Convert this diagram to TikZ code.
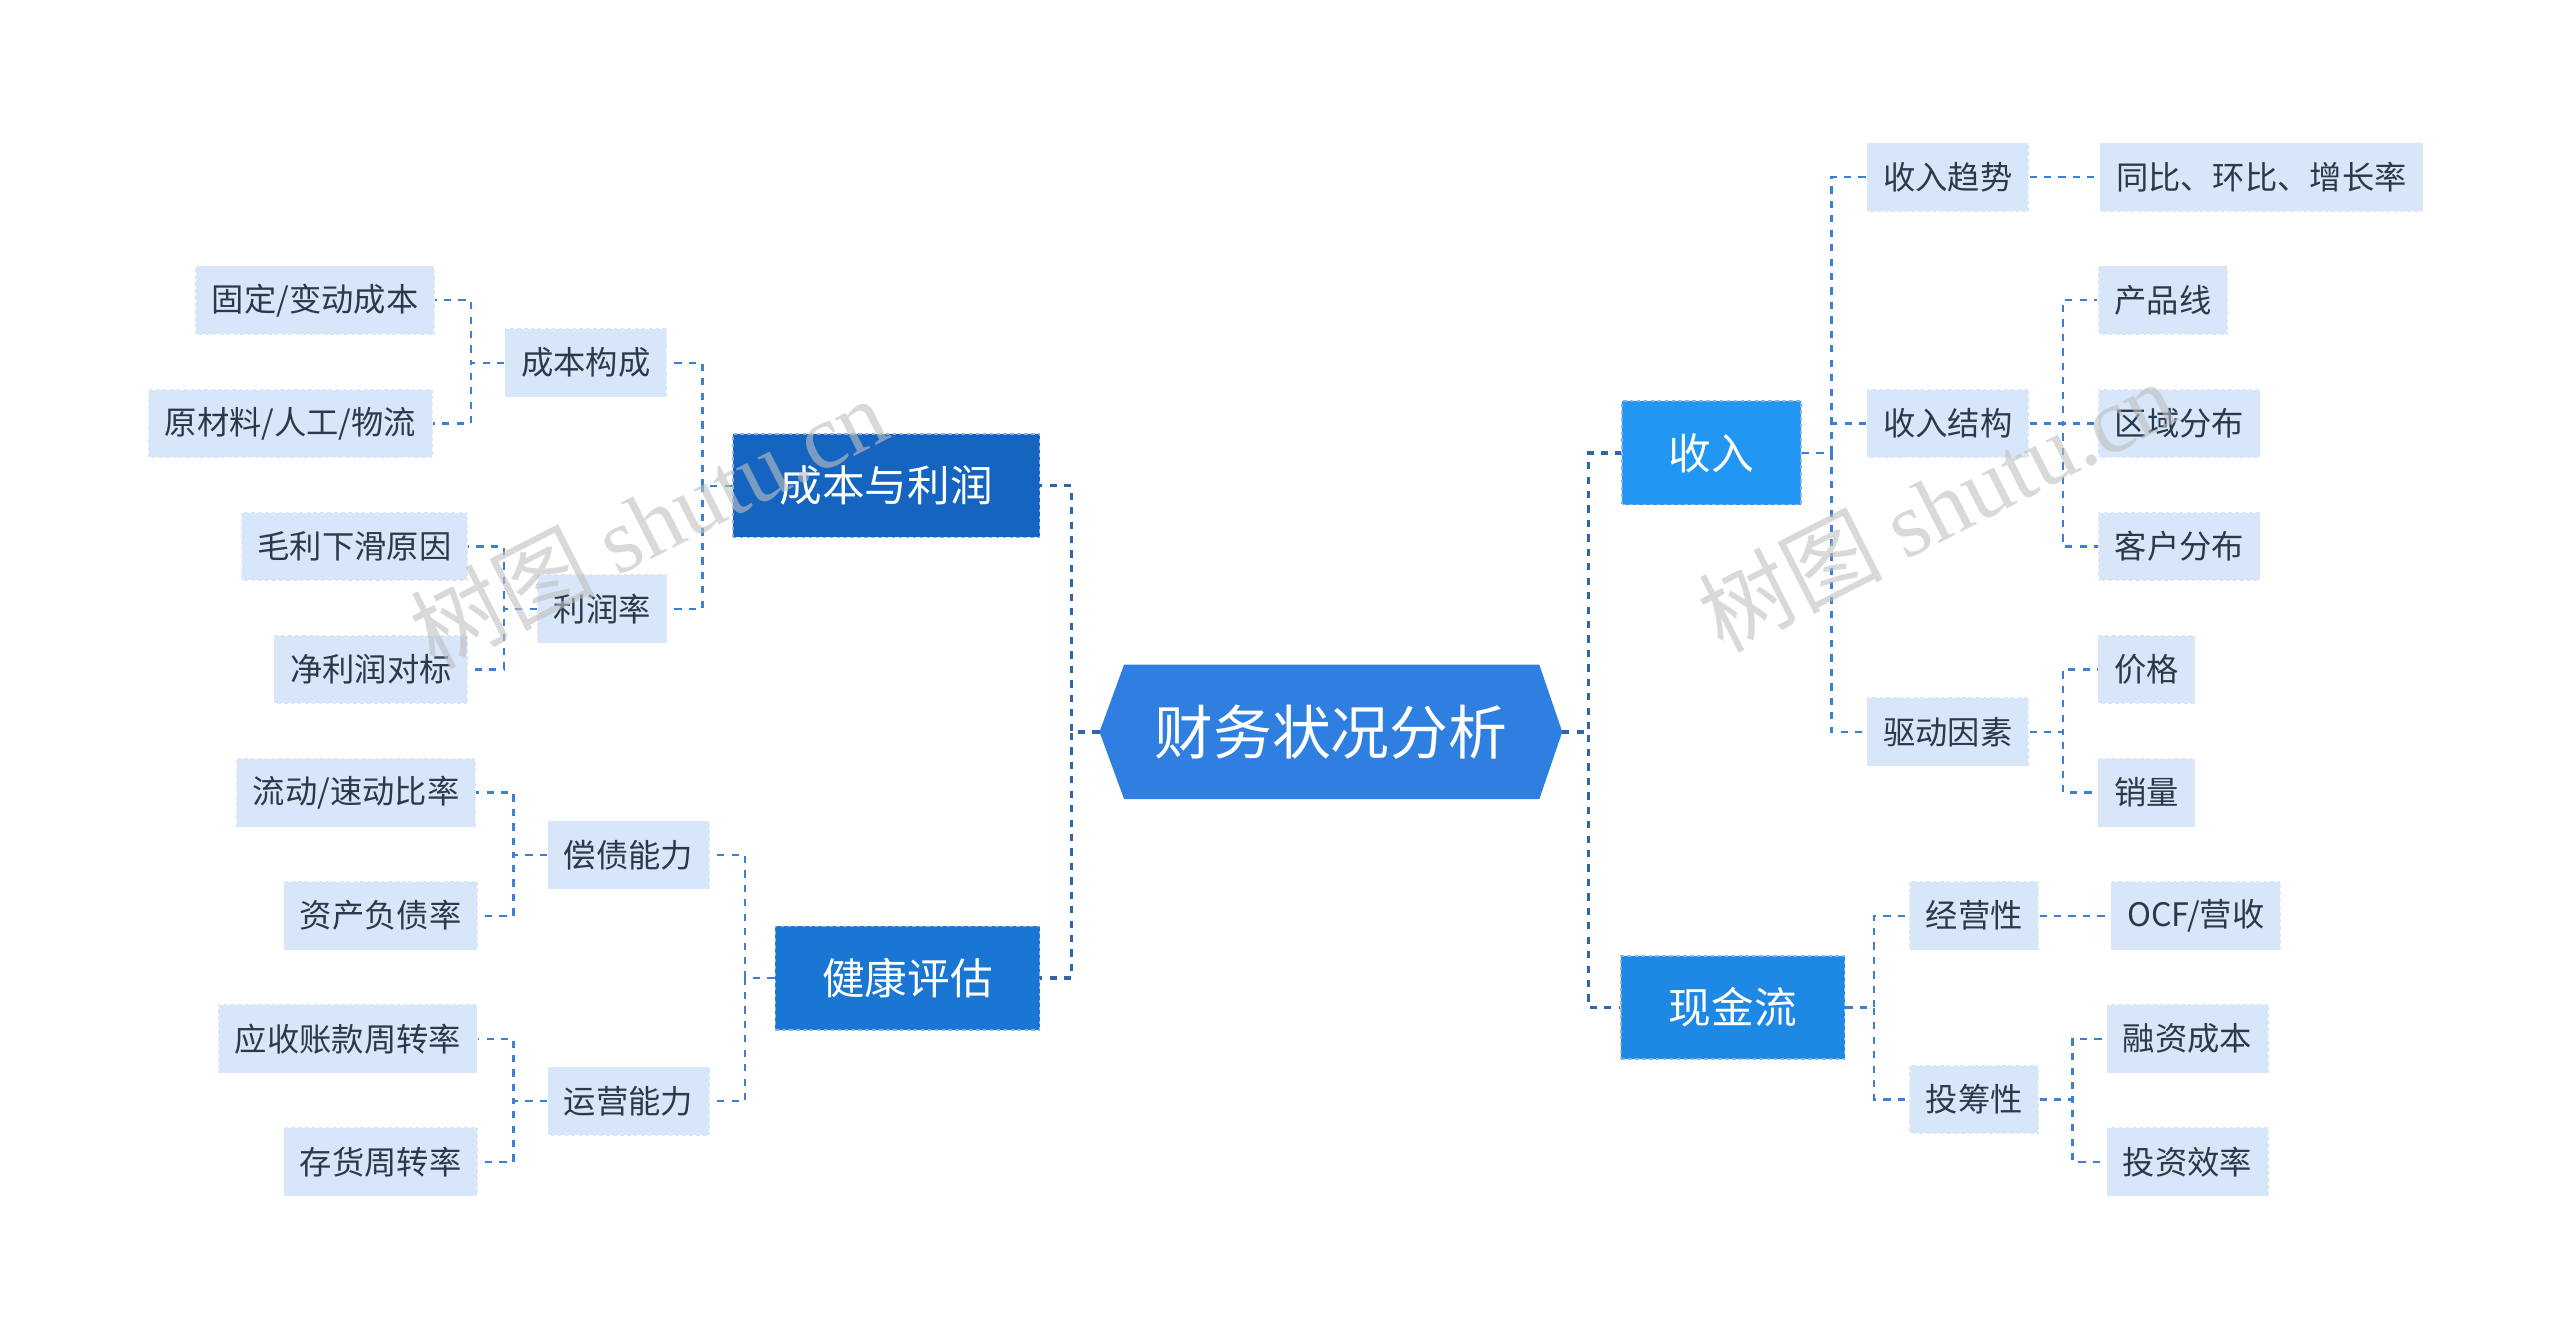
\documentclass[tikz,border=0pt]{standalone}
\usepackage{fontspec}
\setmainfont{Noto Sans CJK SC}
\newfontfamily\wmfont{Liberation Serif}
\usetikzlibrary{calc}
\definecolor{lnk}{HTML}{3D7FD0}
\definecolor{lt}{HTML}{D7E6F8}
\definecolor{txt}{HTML}{2B3A4A}
\begin{document}
\begin{tikzpicture}[x=0.05cm,y=-0.05cm,
  lthree/.style={fill=lt,draw=white,dashed,line width=1pt,text=txt,font=\fontsize{28}{30}\selectfont,minimum height=2.1cm,inner xsep=0.5cm},
  ltwo/.style={lthree},
  lone/.style={draw=lnk!60!white,dashed,line width=1.5pt,text=white,font=\fontsize{37}{40}\selectfont,minimum height=3.15cm,inner xsep=1.2cm},
  lk/.style={draw=lnk,line width=2pt,dash pattern=on 0.22cm off 0.22cm},
  lkb/.style={draw=lnk!80!black,line width=3pt,dash pattern=on 0.22cm off 0.22cm},
  wm/.style={text=gray!50,opacity=0.6,rotate=27,font=\fontsize{80}{80}\selectfont}]
\useasboundingbox (0,0) rectangle (1560,812.3);
% center
\fill[fill={rgb,255:red,47;green,127;blue,224}] (670,446)--(685,405)--(938,405)--(952,446)--(938,487)--(685,487)--cycle;
\node[text=white,font=\fontsize{51}{54}\selectfont,minimum width=14cm,minimum height=4cm] (c) at (811,446) {财务状况分析};
% level 1
\node[lone,fill={rgb,255:red,21;green,101;blue,192},minimum width=9.35cm] (cb) at (540,296) {成本与利润};
\node[lone,fill={rgb,255:red,25;green,118;blue,210},minimum width=8.05cm] (jk) at (553,596) {健康评估};
\node[lone,fill={rgb,255:red,33;green,150;blue,243},minimum width=5.45cm] (sr) at (1043,276) {收入};
\node[lone,fill={rgb,255:red,30;green,136;blue,229},minimum width=6.8cm] (xj) at (1056,614) {现金流};
% level 2
\node[ltwo] (cbgc) at (357,221) {成本构成};
\node[ltwo] (lrl) at (367,371) {利润率};
\node[ltwo] (czn) at (383,521) {偿债能力};
\node[ltwo] (yyn) at (383,671) {运营能力};
\node[ltwo] (srqs) at (1187,108) {收入趋势};
\node[ltwo] (srjg) at (1187,258) {收入结构};
\node[ltwo] (qdys) at (1187,446) {驱动因素};
\node[ltwo] (jyx) at (1203,558) {经营性};
\node[ltwo] (tcx) at (1203,670) {投筹性};
% level 3
\node[lthree] (a1) at (192,183) {固定/变动成本};
\node[lthree] (a2) at (177,258) {原材料/人工/物流};
\node[lthree] (b1) at (216,333) {毛利下滑原因};
\node[lthree] (b2) at (226,408) {净利润对标};
\node[lthree] (d1) at (217,483) {流动/速动比率};
\node[lthree] (d2) at (232,558) {资产负债率};
\node[lthree] (e1) at (212,633) {应收账款周转率};
\node[lthree] (e2) at (232,708) {存货周转率};
\node[lthree] (f1) at (1378,108) {同比、环比、增长率};
\node[lthree] (g1) at (1318,183) {产品线};
\node[lthree] (g2) at (1328,258) {区域分布};
\node[lthree] (g3) at (1328,333) {客户分布};
\node[lthree] (h1) at (1308,408) {价格};
\node[lthree] (h2) at (1308,483) {销量};
\node[lthree] (i1) at (1338,558) {OCF/营收};
\node[lthree] (j1) at (1333,633) {融资成本};
\node[lthree] (j2) at (1333,708) {投资效率};
% buses
\coordinate (bc) at (653,0);
\coordinate (bC) at (968,0);
\coordinate (b1x) at (428,0);
\coordinate (b2x) at (454,0);
\coordinate (b3x) at (287,0);
\coordinate (b4x) at (307,0);
\coordinate (b5x) at (313,0);
\coordinate (b6x) at (1116,0);
\coordinate (b7x) at (1257,0);
\coordinate (b8x) at (1142,0);
\coordinate (b9x) at (1263,0);
\foreach \t in {cb,jk} \draw[lkb] (c.west -| 670,0) -- (c.west -| bc) |- (\t.east);
\foreach \t in {sr,xj} \draw[lkb] (c.east -| 952,0) -- (c.east -| bC) |- (\t.west);
\foreach \t in {cbgc,lrl} \draw[lk] (cb.west) -- (cb.west -| b1x) |- (\t.east);
\foreach \t in {czn,yyn} \draw[lk] (jk.west) -- (jk.west -| b2x) |- (\t.east);
\foreach \t in {a1,a2} \draw[lk] (cbgc.west) -- (cbgc.west -| b3x) |- (\t.east);
\foreach \t in {b1,b2} \draw[lk] (lrl.west) -- (lrl.west -| b4x) |- (\t.east);
\foreach \t in {d1,d2} \draw[lk] (czn.west) -- (czn.west -| b5x) |- (\t.east);
\foreach \t in {e1,e2} \draw[lk] (yyn.west) -- (yyn.west -| b5x) |- (\t.east);
\foreach \t in {srqs,srjg,qdys} \draw[lk] (sr.east) -- (sr.east -| b6x) |- (\t.west);
\foreach \t in {g1,g2,g3} \draw[lk] (srjg.east) -- (srjg.east -| b7x) |- (\t.west);
\foreach \t in {h1,h2} \draw[lk] (qdys.east) -- (qdys.east -| b7x) |- (\t.west);
\foreach \t in {jyx,tcx} \draw[lk] (xj.east) -- (xj.east -| b8x) |- (\t.west);
\foreach \t in {j1,j2} \draw[lk] (tcx.east) -- (tcx.east -| b9x) |- (\t.west);
\draw[lk] (srqs.east) -- (f1.west);
\draw[lk] (jyx.east) -- (i1.west);
% watermarks
\node[wm] (w1) at (395,318) {树图 {\wmfont shutu.cn}};
\node[wm] (w2) at (1180,308) {树图 {\wmfont shutu.cn}};
\end{tikzpicture}
\end{document}
